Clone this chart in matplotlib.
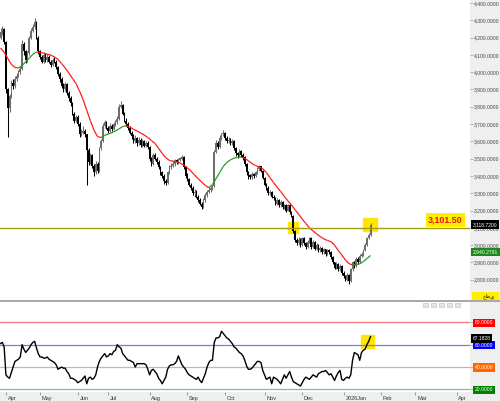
import numpy as np
import pandas as pd
import matplotlib
matplotlib.use("Agg")
import matplotlib.pyplot as plt
import matplotlib.transforms as mtransforms
from matplotlib.collections import LineCollection
from matplotlib.patches import Rectangle
from matplotlib.lines import Line2D

plt.rcParams['font.family'] = ['Liberation Sans', 'DejaVu Sans']

# ==========================================
# 1. DANE
# ==========================================
first_open = 4200
close = [4230, 4250, 4175, 3900, 3790, 3860, 3940, 3920, 3960, 3980,
         4000, 4020, 4160, 4120, 4070, 4110, 4200, 4240, 4260, 4290,
         4200, 4120, 4090, 4060, 4100, 4070, 4090, 4060, 4040, 4070,
         4060, 4030, 3990, 3960, 3920, 3900, 3930, 3880, 3850, 3820,
         3760, 3720, 3740, 3700, 3640, 3650, 3660, 3640, 3550, 3480,
         3520, 3460, 3420, 3470, 3430, 3560, 3600, 3690, 3710, 3680,
         3660, 3690, 3670, 3700, 3710, 3730, 3800, 3810, 3760, 3720,
         3700, 3680, 3650, 3630, 3600, 3620, 3590, 3610, 3580, 3600,
         3575, 3590, 3570, 3500, 3470, 3520, 3500, 3480, 3450, 3420,
         3400, 3370, 3360, 3420, 3450, 3460, 3470, 3490, 3480, 3495,
         3500, 3510, 3450, 3400, 3380, 3350, 3330, 3300, 3310, 3280,
         3260, 3240, 3220, 3260, 3290, 3310, 3320, 3330, 3340, 3540,
         3590, 3570, 3620, 3640, 3650, 3620, 3600, 3610, 3590, 3600,
         3560, 3530, 3520, 3545, 3520, 3510, 3470, 3420, 3400, 3395,
         3410, 3400, 3420, 3440, 3455, 3430, 3390, 3350, 3330, 3300,
         3310, 3280, 3270, 3240, 3260, 3230, 3250, 3220, 3230, 3200,
         3230, 3190, 3170, 3080, 3030, 3010, 3030, 3000, 3040, 3010,
         2990, 3020, 3040, 2990, 3020, 2980, 3000, 2970, 2985, 2960,
         2975, 2950, 2970, 2960, 2930, 2900, 2870, 2890, 2860, 2880,
         2840, 2820, 2800, 2830, 2790, 2860, 2900, 2880, 2920, 2900,
         2940, 2950, 2970, 3000, 3040, 3060, 3118.72]
high = [4255, 4265, 4255, 4180, 3910, 3875, 3955, 3960, 3975, 3995,
        4015, 4035, 4186, 4175, 4130, 4125, 4210, 4255, 4280, 4315,
        4295, 4210, 4130, 4100, 4115, 4110, 4105, 4100, 4070, 4080,
        4085, 4070, 4035, 4000, 3970, 3935, 3945, 3935, 3890, 3860,
        3825, 3770, 3755, 3750, 3710, 3670, 3690, 3670, 3645, 3560,
        3535, 3525, 3470, 3485, 3480, 3570, 3615, 3705, 3725, 3720,
        3690, 3705, 3700, 3710, 3725, 3745, 3815, 3835, 3815, 3770,
        3735, 3710, 3690, 3660, 3640, 3635, 3625, 3625, 3620, 3615,
        3610, 3600, 3600, 3575, 3510, 3535, 3530, 3510, 3490, 3460,
        3430, 3410, 3380, 3430, 3465, 3475, 3485, 3500, 3500, 3505,
        3510, 3520, 3515, 3460, 3415, 3390, 3360, 3340, 3325, 3320,
        3290, 3270, 3250, 3270, 3300, 3320, 3335, 3340, 3350, 3550,
        3610, 3600, 3635, 3650, 3665, 3655, 3630, 3625, 3620, 3615,
        3605, 3570, 3540, 3555, 3550, 3530, 3515, 3475, 3430, 3410,
        3420, 3415, 3430, 3450, 3465, 3460, 3435, 3395, 3360, 3340,
        3320, 3315, 3290, 3280, 3270, 3265, 3260, 3255, 3240, 3240,
        3240, 3235, 3200, 3175, 3085, 3040, 3045, 3040, 3050, 3045,
        3020, 3030, 3050, 3045, 3030, 3025, 3010, 3005, 2995, 2990,
        2985, 2980, 2980, 2980, 2965, 2940, 2905, 2900, 2895, 2890,
        2885, 2850, 2830, 2840, 2835, 2870, 2910, 2910, 2930, 2930,
        2950, 2960, 2980, 3010, 3050, 3070, 3130]
low = [4190, 4215, 4160, 3880, 3625, 3770, 3850, 3905, 3910, 3950,
       3970, 3990, 4015, 4100, 4053, 4060, 4100, 4190, 4230, 4250,
       4190, 4105, 4075, 4050, 4050, 4060, 4060, 4050, 4030, 4035,
       4050, 4020, 3980, 3945, 3910, 3885, 3890, 3870, 3835, 3805,
       3750, 3705, 3710, 3690, 3625, 3630, 3640, 3625, 3350, 3465,
       3470, 3445, 3400, 3410, 3415, 3425, 3550, 3595, 3680, 3670,
       3650, 3655, 3660, 3665, 3690, 3700, 3725, 3790, 3750, 3710,
       3690, 3665, 3640, 3615, 3590, 3590, 3575, 3580, 3570, 3570,
       3565, 3565, 3555, 3485, 3460, 3465, 3490, 3470, 3440, 3405,
       3390, 3355, 3345, 3355, 3410, 3440, 3450, 3460, 3470, 3470,
       3485, 3490, 3440, 3390, 3370, 3340, 3320, 3290, 3290, 3270,
       3250, 3230, 3210, 3215, 3250, 3280, 3300, 3310, 3320, 3335,
       3530, 3555, 3560, 3610, 3630, 3610, 3590, 3590, 3580, 3580,
       3550, 3515, 3505, 3510, 3510, 3495, 3460, 3405, 3385, 3385,
       3385, 3390, 3395, 3410, 3430, 3420, 3380, 3340, 3320, 3290,
       3290, 3270, 3260, 3230, 3230, 3220, 3220, 3210, 3210, 3190,
       3195, 3180, 3160, 3070, 3020, 3000, 3000, 2990, 2995, 3000,
       2980, 2985, 3010, 2980, 2985, 2970, 2970, 2960, 2960, 2950,
       2950, 2940, 2945, 2950, 2920, 2890, 2860, 2860, 2850, 2850,
       2830, 2810, 2790, 2790, 2775, 2785, 2850, 2870, 2875, 2890,
       2895, 2930, 2940, 2965, 2995, 3035, 3055]

# srednia kroczaca (co druga swieca)
ma = [4140, 4115, 4080, 4045, 4027, 4024, 4038, 4060, 4082, 4103,
      4116, 4113, 4110, 4104, 4098, 4088, 4074, 4050, 4024, 3995,
      3965, 3935, 3890, 3840, 3780, 3720, 3665, 3628, 3622, 3635,
      3642, 3650, 3660, 3672, 3686, 3689, 3683, 3670, 3660, 3648,
      3637, 3622, 3605, 3588, 3560, 3530, 3505, 3490, 3485, 3481,
      3475, 3462, 3448, 3428, 3406, 3385, 3364, 3345, 3332, 3350,
      3385, 3420, 3455, 3478, 3493, 3503, 3508, 3510, 3502, 3488,
      3472, 3460, 3452, 3442, 3420, 3390, 3362, 3335, 3310, 3282,
      3256, 3232, 3205, 3178, 3150, 3125, 3100, 3082, 3065, 3050,
      3036, 3027, 3020, 3000, 2970, 2943, 2915, 2893, 2886, 2888,
      2892, 2905, 2922, 2940.2791]

rsi = [61, 62, 58, 33, 31, 30, 35, 40, 45, 46,
       47, 49, 60, 56, 53, 55, 57, 60, 62, 63,
       57, 52, 49, 49, 48, 48, 49, 47, 46, 45,
       44, 42, 38, 39, 40, 39, 39, 36, 34, 30,
       30, 29, 28, 26, 27, 28, 30, 32, 25, 30,
       31, 29, 30, 33, 40, 45, 48, 50, 52, 49,
       50, 52, 51, 54, 55, 60, 58, 57, 52, 50,
       48, 46, 46, 45, 44, 40, 43, 43, 43, 43,
       43, 42, 38, 33, 37, 38, 36, 34, 30, 28,
       25, 28, 31, 38, 41, 42, 42, 43, 45, 50,
       46, 42, 40, 38, 35, 33, 32, 31, 30, 29,
       31, 28, 26, 30, 34, 40, 44, 46, 46, 62,
       66, 66, 67, 72, 70, 68, 66, 65, 63, 61,
       58, 57, 55, 53, 52, 50, 46, 41, 38, 38,
       39, 41, 43, 45, 45, 44, 37, 33, 29, 30,
       31, 25, 31, 30, 29, 27, 25, 29, 33, 30,
       33, 36, 31, 27, 26, 25, 24, 23, 26, 29,
       31, 30, 29, 31, 33, 32, 31, 34, 35, 36,
       36, 37, 35, 33, 34, 31, 28, 32, 35, 37,
       29, 28, 30, 31, 30, 33, 46, 53, 52, 51,
       46, 53, 55, 56, 60, 63, 67.1828]

level_price = 3101.50
rsi_levels = [80, 60, 40, 20]
rsi_line_colors = ["#f07878", "#7878f0", "#f8a878", "#78c878"]
rsi_box_colors = ["#ff0000", "#0000ff", "#ff6600", "#008000"]

# kalendarz sesji (niedziela-czwartek)
holidays = ["2025-03-27", "2025-03-30", "2025-03-31", "2025-04-01", "2025-04-02",
            "2025-04-03", "2025-06-05", "2025-06-08", "2025-06-09", "2025-06-10",
            "2025-06-11", "2025-09-23", "2026-02-22"]
days = pd.bdate_range("2025-03-24", periods=262, freq="C",
                      weekmask="Sun Mon Tue Wed Thu", holidays=holidays)

# ==========================================
# 2. UKLAD
# ==========================================
W, H = 500, 401
fig = plt.figure(figsize=(5.0, 4.01), dpi=100, facecolor="#efefef")
ax = fig.add_axes([0, 1 - 300 / H, 470 / W, 300 / H], facecolor="white")
ax2 = fig.add_axes([0, 1 - 392 / H, 470 / W, 91 / H], facecolor="white")

xlim = (-0.3, 261.4)
for a in (ax, ax2):
    a.set_xlim(*xlim)
    for s in a.spines.values():
        s.set_visible(False)

# ==========================================
# 3. SWIECE + SREDNIA
# ==========================================
c = np.array(close, dtype=float)
o = np.concatenate([[first_open], c[:-1]])
x = np.arange(len(c))
up = c >= o
col = np.where(up, "#6e6e6e", "#000000")
ax.vlines(x, low, high, colors=col, lw=0.75)
ax.bar(x, np.maximum(np.abs(c - o), 8), bottom=np.minimum(o, c), width=0.9,
       color=col, linewidth=0)

ma = np.array(ma)
ma_x = np.arange(0, len(c), 2)
pts = np.column_stack([ma_x, ma])
segs = np.stack([pts[:-1], pts[1:]], axis=1)
ma_cols = np.where(np.diff(ma) >= 0, "#1e9e1e", "#ff1a1a")
ax.add_collection(LineCollection(segs, colors=ma_cols, linewidths=0.9))

ax.axhline(level_price, color="#a0a010", lw=1.0)

# zolte podswietlenia
ax.add_patch(Rectangle((160.3, level_price - 31), 5.6, 62, color="#ffe600", zorder=0))
ax.add_patch(Rectangle((201.9, close[-1] - 37), 7.8, 74, color="#ffe600", zorder=0))

ax.set_ylim(2683, 4417)
ax.set_xticks([])
ax.yaxis.tick_right()
ax.set_yticks(np.arange(2800, 4401, 100))
ax.yaxis.set_major_formatter(lambda v, p: f"{v:,.4f}")
ax.tick_params(axis="y", length=2.2, width=0.5, color="#999999", labelsize=3.6,
               labelcolor="#444444", pad=0.8)

blend = mtransforms.blended_transform_factory(ax.transAxes, ax.transData)
ax.text(1.006, close[-1], f"{close[-1]:,.4f}", transform=blend, fontsize=3.6,
        color="white", va="center", ha="left",
        bbox=dict(boxstyle="square,pad=0.35", fc="black", ec="none"))
ax.text(1.006, ma[-1] + 20, f"{ma[-1]:,.4f}", transform=blend, fontsize=3.6,
        color="white", va="center", ha="left",
        bbox=dict(boxstyle="square,pad=0.35", fc="#1a8a1a", ec="none"))
ax.annotate(f"{level_price:,.2f}", xy=(445.5 / 470, level_price), xycoords=blend,
            xytext=(0, 2.0), textcoords="offset points", ha="center", va="bottom",
            fontsize=6.4, fontweight="bold", color="#ee1111",
            bbox=dict(boxstyle="square,pad=0.3", fc="#ffee00", ec="none"))

# ==========================================
# 4. OSCYLATOR
# ==========================================
for lv, lc_ in zip(rsi_levels, rsi_line_colors):
    ax2.axhline(lv, color=lc_, lw=0.9)
ax2.add_patch(Rectangle((200.7, 57.3), 7.0, 11.3, color="#ffe600", zorder=1))
ax2.plot(x, rsi, color="black", lw=1.0, zorder=3)
ax2.set_ylim(17.7, 99)

ax2.yaxis.tick_right()
ax2.set_yticks(rsi_levels)
ax2.set_yticklabels([f"{v:.4f}" for v in rsi_levels])
ax2.tick_params(axis="y", length=2.2, width=0.5, color="#999999", labelsize=3.6,
                labelcolor="white", pad=1.2)
for lbl, fc in zip(ax2.get_yticklabels(), rsi_box_colors):
    lbl.set_bbox(dict(boxstyle="square,pad=0.35", fc=fc, ec="none"))
blend2 = mtransforms.blended_transform_factory(ax2.transAxes, ax2.transData)
ax2.text(1.006, rsi[-1] - 1.5, f"{rsi[-1]:.4f}", transform=blend2, fontsize=3.6,
         color="white", va="center", ha="left",
         bbox=dict(boxstyle="square,pad=0.35", fc="black", ec="none"))

# os czasu
month = days.to_period("M")
starts = [i for i in range(1, len(days)) if month[i] != month[i - 1]]
labels = ["2026Jan" if (days[i].month == 1) else days[i].strftime("%b") for i in starts]
ax2.set_xticks(starts)
ax2.set_xticklabels(labels, ha="left")
ax2.tick_params(axis="x", length=2, width=0.5, color="#777777", labelsize=4,
                labelcolor="#333333", pad=0.6)
shift = mtransforms.ScaledTranslation(1.2 / 72, 0, fig.dpi_scale_trans)
for lbl in ax2.get_xticklabels():
    lbl.set_transform(lbl.get_transform() + shift)

# separator + drobne elementy interfejsu
fig.add_artist(Line2D([0, 1], [1 - 300.8 / H] * 2, transform=fig.transFigure,
                      color="#a8a8a8", lw=1.4))
for bx in [423, 431, 439, 447, 455]:
    fig.add_artist(Rectangle((bx / W, 1 - 307 / H), 5 / W, 4.5 / H,
                             transform=fig.transFigure, fc="#e4e4e4", ec="#bbbbbb", lw=0.4))
fig.add_artist(Rectangle((472 / W, 1 - 300 / H), 27 / W, 8 / H,
                         transform=fig.transFigure, fc="#ffee00", ec="none"))
fig.text(489 / W, 1 - 296 / H, "خطي", fontsize=3.8, ha="center", va="center",
         color="black", family=["DejaVu Sans"])

fig.savefig("out.png", dpi=100, facecolor=fig.get_facecolor())
